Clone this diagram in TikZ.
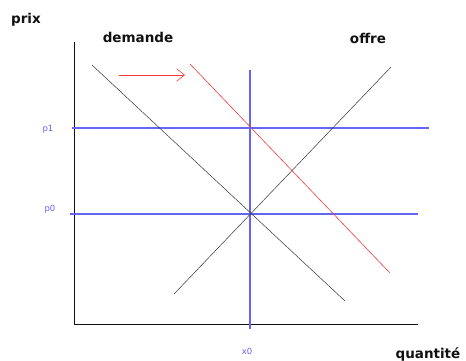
\documentclass[tikz,border=0pt]{standalone}
\usepackage{fontspec}
\setmainfont{DejaVu Sans}
\definecolor{guide}{HTML}{6464F5}
\definecolor{shift}{HTML}{F53A3A}
\definecolor{ink}{HTML}{111111}
\usetikzlibrary{arrows.meta, positioning}
\tikzset{
  axis/.style={line width=1pt, color=ink},
  curve/.style={color=ink!85, line width=0.5pt},
  newcurve/.style={color=shift, line width=0.6pt},
  guideline/.style={color=guide, line width=1.1pt},
  title/.style={font=\bfseries\fontsize{13.5}{15}\selectfont, color=ink, inner sep=0pt},
  tick/.style={font=\fontsize{8.5}{9}\selectfont, color=guide, inner sep=0pt},
}
\begin{document}
\begin{tikzpicture}[x=1pt,y=-1pt]
\useasboundingbox (0,0) rectangle (466,360);
% axes
\coordinate (o) at (74,324);
\coordinate (ytop) at (74,42);
\coordinate (xend) at (418,324);
\draw[axis] (ytop)--(o)--(xend);
\node[title] (prix) at (26,20) {prix};
\node[title] (qte) at (428,354) {quantité};
% guides
\coordinate (x0top) at (250,70);\coordinate (x0bot) at (250,329);
\coordinate (p1l) at (72,128);\coordinate (p1r) at (429,128);
\coordinate (p0l) at (70,214);\coordinate (p0r) at (418,214);
\draw[guideline] (x0top)--(x0bot);
\draw[guideline] (p1l)--(p1r);
\draw[guideline] (p0l)--(p0r);
\node[tick] (p1) at (48,129) {p1};
\node[tick] (p0) at (50,209) {p0};
\node[tick] (x0) at (247,351) {x0};
% courbes
\coordinate (d1) at (92,65);\coordinate (d2) at (345,301);
\coordinate (s1) at (174,294);\coordinate (s2) at (391,67);
\coordinate (n1) at (190,64);\coordinate (n2) at (390,273);
\draw[curve] (d1)--(d2);
\draw[curve] (s1)--(s2);
\draw[newcurve] (n1)--(n2);
\coordinate (a1) at (119,75);\coordinate (a2) at (185,75);
\draw[newcurve, -{Straight Barb[length=2.8mm,width=4.4mm]}] (a1)--(a2);
\node[title] (demande) at (138,37) {demande};
\node[title] (offre) at (368,38) {offre};
\end{tikzpicture}
\end{document}
